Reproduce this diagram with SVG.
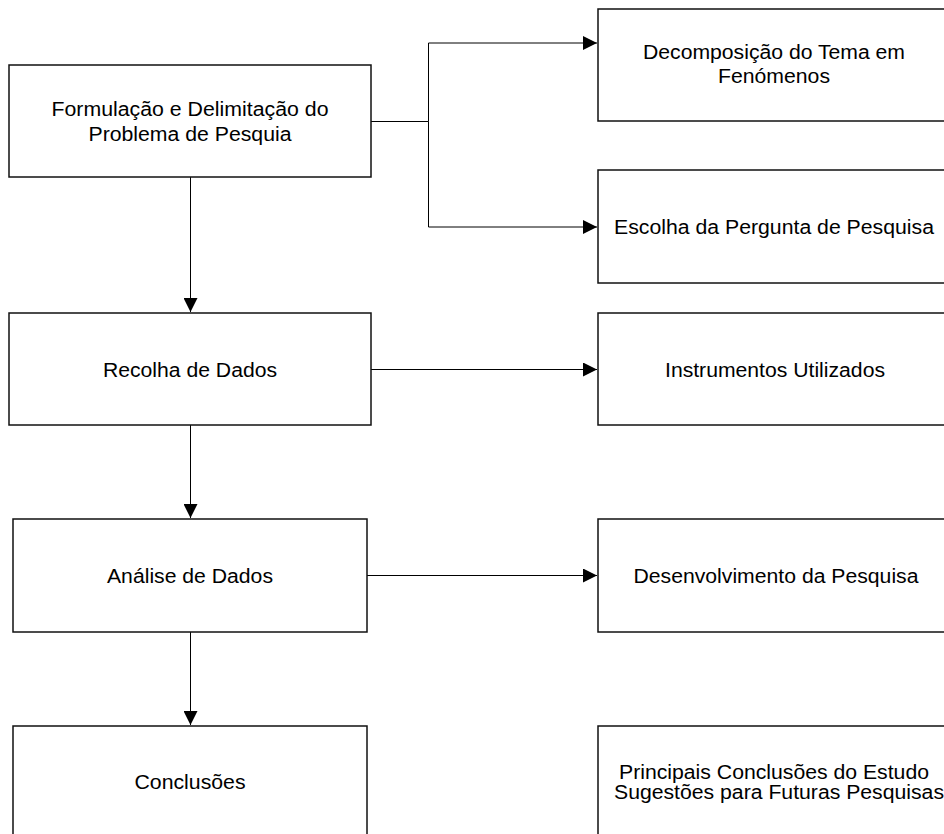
<svg xmlns="http://www.w3.org/2000/svg" width="944" height="834" viewBox="0 0 944 834">
<defs>
<style>
.box{fill:#fff;stroke:#111;stroke-width:1.5}
.lbl{font-family:"Liberation Sans",Arial,sans-serif;font-size:19.5px;fill:#000;text-anchor:middle}
.con{fill:none;stroke:#000;stroke-width:1}
</style>
<marker id="ah" viewBox="0 0 14 14" markerWidth="14" markerHeight="14" refX="14" refY="7" orient="auto" markerUnits="userSpaceOnUse">
<path d="M0,0 L14,7 L0,14 Z" fill="#000"/>
</marker>
</defs>
<rect width="944" height="834" fill="#fff"/>
<g id="connectors">
<path class="con" d="M371,121.5 H428.5 V43 H597" marker-end="url(#ah)"/>
<path class="con" d="M428.5,121.5 V227 H597" marker-end="url(#ah)"/>
<path class="con" d="M190.5,177 V312" marker-end="url(#ah)"/>
<path class="con" d="M371,369.5 H597" marker-end="url(#ah)"/>
<path class="con" d="M190.5,425 V518" marker-end="url(#ah)"/>
<path class="con" d="M367,575.5 H597" marker-end="url(#ah)"/>
<path class="con" d="M190.5,632 V725" marker-end="url(#ah)"/>
</g>
<g id="n1"><rect class="box" x="9" y="65" width="362" height="112"/>
<text class="lbl" x="190" y="116" textLength="277" lengthAdjust="spacingAndGlyphs">Formulação e Delimitação do</text>
<text class="lbl" x="190" y="141" textLength="203" lengthAdjust="spacingAndGlyphs">Problema de Pesquia</text></g>
<g id="n2"><rect class="box" x="598" y="9" width="370" height="112"/>
<text class="lbl" x="774" y="59" textLength="262" lengthAdjust="spacingAndGlyphs">Decomposição do Tema em</text>
<text class="lbl" x="774" y="83" textLength="112" lengthAdjust="spacingAndGlyphs">Fenómenos</text></g>
<g id="n3"><rect class="box" x="598" y="170" width="370" height="113"/>
<text class="lbl" x="774" y="234" textLength="320" lengthAdjust="spacingAndGlyphs">Escolha da Pergunta de Pesquisa</text></g>
<g id="n4"><rect class="box" x="9" y="313" width="362" height="112"/>
<text class="lbl" x="190" y="377" textLength="174" lengthAdjust="spacingAndGlyphs">Recolha de Dados</text></g>
<g id="n5"><rect class="box" x="598" y="313" width="370" height="112"/>
<text class="lbl" x="775" y="377" textLength="220" lengthAdjust="spacingAndGlyphs">Instrumentos Utilizados</text></g>
<g id="n6"><rect class="box" x="13" y="519" width="354" height="113"/>
<text class="lbl" x="190" y="583" textLength="166" lengthAdjust="spacingAndGlyphs">Análise de Dados</text></g>
<g id="n7"><rect class="box" x="598" y="519" width="370" height="113"/>
<text class="lbl" x="776" y="583" textLength="285" lengthAdjust="spacingAndGlyphs">Desenvolvimento da Pesquisa</text></g>
<g id="n8"><rect class="box" x="13" y="726" width="354" height="140"/>
<text class="lbl" x="190" y="789" textLength="111" lengthAdjust="spacingAndGlyphs">Conclusões</text></g>
<g id="n9"><rect class="box" x="598" y="726" width="370" height="140"/>
<text class="lbl" x="774" y="779" textLength="310" lengthAdjust="spacingAndGlyphs">Principais Conclusões do Estudo</text>
<text class="lbl" x="779" y="799" textLength="330" lengthAdjust="spacingAndGlyphs">Sugestões para Futuras Pesquisas</text></g>
</svg>
